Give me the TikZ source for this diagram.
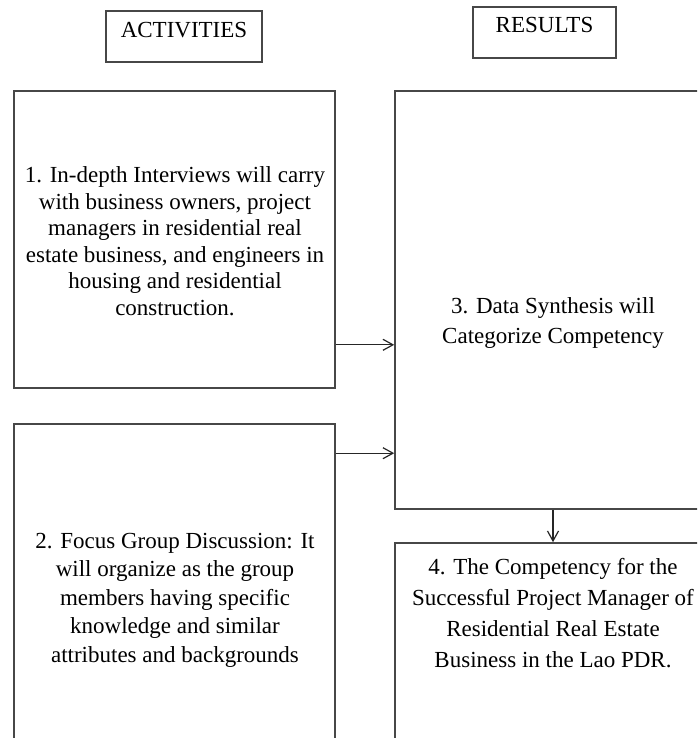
\documentclass[tikz,border=0pt]{standalone}
\usepackage{fontspec}
\setmainfont{Liberation Serif}
\usetikzlibrary{arrows.meta}
\begin{document}
\begin{tikzpicture}[x=1pt,y=-1pt,
		box/.style={draw=black!72,line width=1.6pt,rectangle,inner sep=0pt},
		txt/.style={align=center,font=\fontsize{23}{30.5}\selectfont},
		link/.style={->,draw=black!85,line width=1.2pt},
		>={Straight Barb[length=10pt,width=11pt]}]
		\useasboundingbox (0,0) rectangle (697,738);
		\clip (0,0) rectangle (697,738);
		
		\node [box,minimum width=156,minimum height=51] (act) at (184,36.5) {};
		\node [box,minimum width=143,minimum height=51] (res) at (544.5,32.5) {};
		\node [txt] (acttext) at (184,30) {ACTIVITIES};
		\node [txt] (restext) at (544.5,25) {RESULTS};
		
		\node [box,minimum width=321,minimum height=297] (interview) at (174.5,239.5) {};
		\node [box,minimum width=321,minimum height=376] (focus) at (174.5,612) {};
		\node [box,minimum width=316,minimum height=418] (synthesis) at (553,300) {};
		\node [box,minimum width=316,minimum height=257] (competency) at (553,671.5) {};
		
		\node [txt,font=\fontsize{23}{26.5}\selectfont] (interviewtext) at (175,241) {1. In-depth Interviews will carry\\with business owners, project\\managers in residential real\\estate business, and engineers in\\housing and residential\\construction.};
		\node [txt,font=\fontsize{23}{28.5}\selectfont] (focustext) at (175,600) {2. Focus Group Discussion: It\\will organize as the group\\members having specific\\knowledge and similar\\attributes and backgrounds};
		\node [txt,font=\fontsize{23}{30}\selectfont] (synthesistext) at (553,323) {3. Data Synthesis will\\Categorize Competency};
		\node [txt,font=\fontsize{23}{31}\selectfont] (competencytext) at (553,613.5) {4. The Competency for the\\Successful Project Manager of\\Residential Real Estate\\Business in the Lao PDR.};
		
		\draw [link] ([yshift=44pt]interview.south east) coordinate (from1) -- (from1 -| synthesis.west);
		\draw [link] ([yshift=-30pt]focus.north east) coordinate (from2) -- (from2 -| synthesis.west);
		\draw [link] (synthesis.south) -- (competency.north);
	\end{tikzpicture}
\end{document}
